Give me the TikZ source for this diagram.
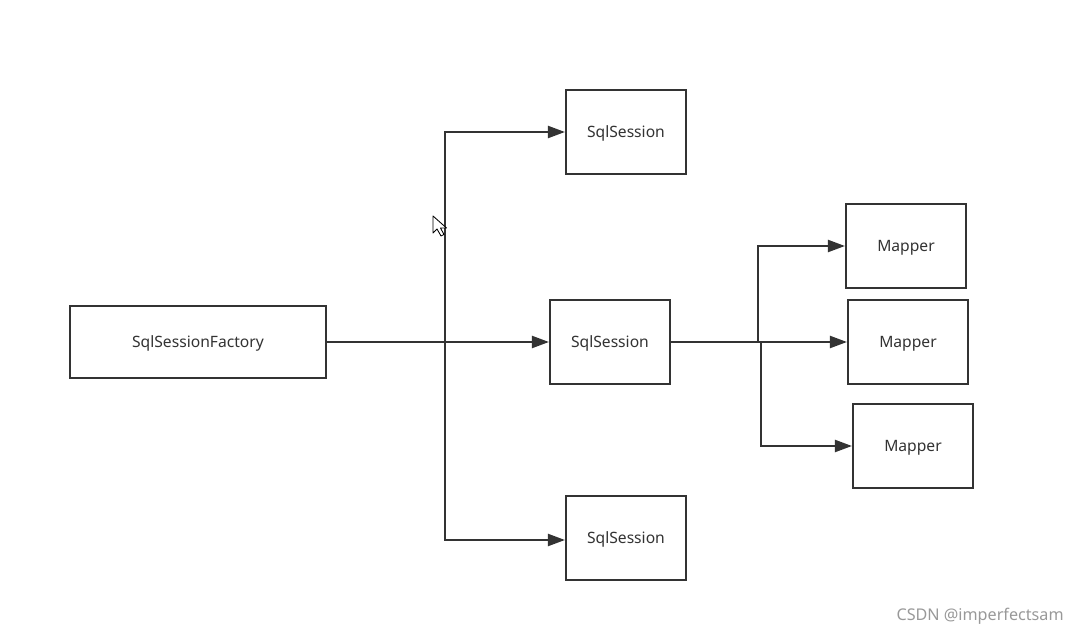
\documentclass[tikz,border=0pt]{standalone}
\usepackage{fontspec}
\setmainfont{Noto Sans}
\usetikzlibrary{arrows.meta}
\definecolor{ln}{HTML}{333333}
\tikzset{
  box/.style={draw=ln, line width=1.2pt, fill=white, minimum width=2.4cm, minimum height=1.68cm, inner sep=0pt, text depth=0pt, font=\fontsize{8.9pt}{10pt}\selectfont, text=ln},
  conn/.style={draw=ln, line width=1.2pt},
  arr/.style={conn, -{Triangle[length=3.4mm,width=2.4mm]}},
}
\begin{document}
\begin{tikzpicture}[x=0.02cm,y=-0.02cm]
\useasboundingbox[fill=white] (0,0) rectangle (1079,634);
\node[box, minimum width=5.12cm, minimum height=1.44cm] (f) at (198,342) {SqlSessionFactory};
\node[box] (s1) at (626,132) {SqlSession};
\node[box] (s2) at (610,342) {SqlSession};
\node[box] (s3) at (626,538) {SqlSession};
\node[box] (m1) at (906,246) {Mapper};
\node[box] (m2) at (908,342) {Mapper};
\node[box] (m3) at (913,446) {Mapper};
\coordinate (j1) at (445,342);
\coordinate (j2) at (758,342);
\coordinate (j3) at (761,342);
\draw[conn, line width=1.6pt] (f.east) -- (j1);
\draw[arr] (j1) |- (s1.west);
\draw[arr] (j1) -- (s2.west);
\draw[arr] (j1) |- ([yshift=-0.04cm]s3.west);
\draw[conn, line width=1.6pt] (s2.east) -- (j3);
\draw[arr] (j2) |- (m1.west);
\draw[arr] (j3) -- (m2.west);
\draw[arr] (j3) |- (m3.west);
% mouse cursor
\coordinate (c0) at (433,216);
\draw[black, line width=0.5pt, fill=white, line join=round]
  (c0) -- ++(0,17) -- ++(4,-4) -- ++(4,7) -- ++(3,-1.5) -- ++(-3.5,-6.5) -- ++(6,0) -- cycle;
\node[anchor=east, text=black!40, font=\fontsize{9.2pt}{11pt}\selectfont, inner sep=0pt] (wm) at (1064,616) {CSDN @imperfectsam};
\end{tikzpicture}
\end{document}
